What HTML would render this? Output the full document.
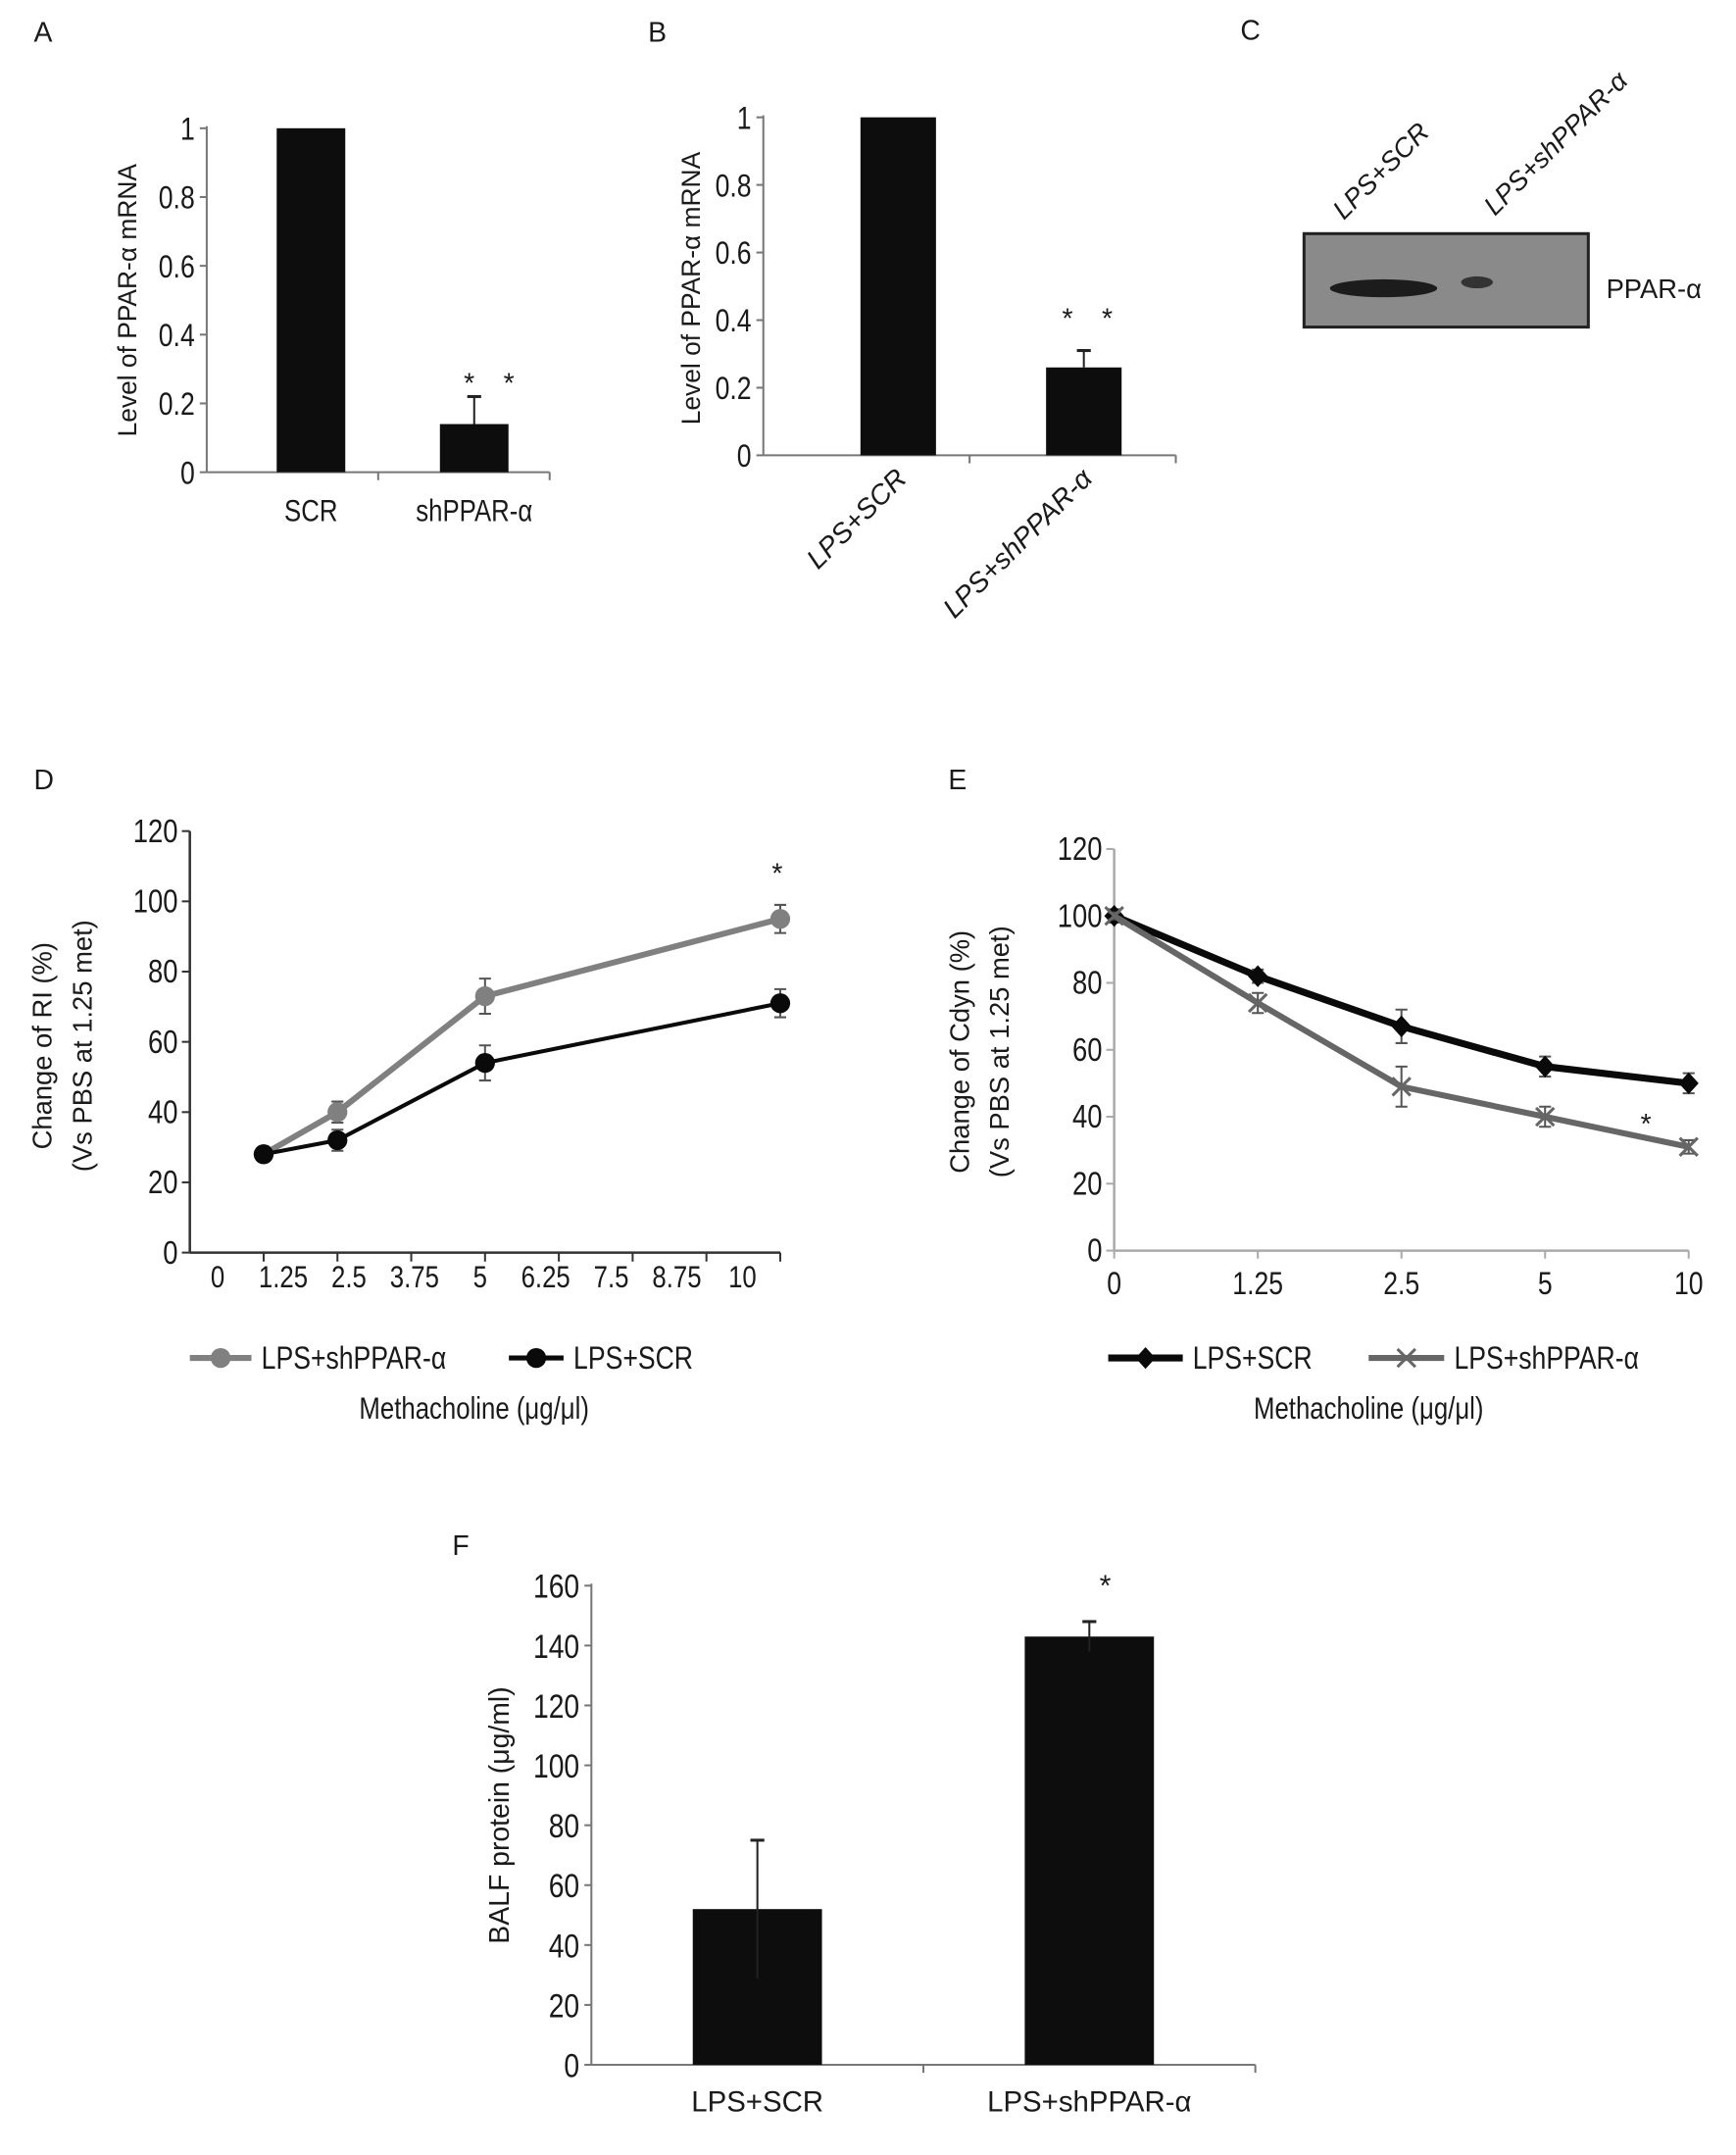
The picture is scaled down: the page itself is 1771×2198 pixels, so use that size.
<!DOCTYPE html>
<html><head><meta charset="utf-8"><style>
html,body{margin:0;padding:0;background:#fff}
svg{display:block}
text{font-family:"Liberation Sans",sans-serif;fill:#1a1a1a}
</style></head><body>
<svg id="fig" xmlns="http://www.w3.org/2000/svg" width="1771" height="2198" viewBox="0 0 1746.6 2167.7">
<text x="34" y="42" font-size="28">A</text>
<text x="652" y="42" font-size="28">B</text>
<text x="1248" y="40" font-size="28">C</text>
<text x="34" y="794" font-size="28">D</text>
<text x="954" y="794" font-size="28">E</text>
<text x="455" y="1564" font-size="28">F</text>
<g id="blot">
<rect x="1312" y="235" width="286" height="94" fill="#8a8a8a" stroke="#222" stroke-width="3"/>
<ellipse cx="1392" cy="290" rx="54" ry="9" fill="#1c1c1c"/>
<ellipse cx="1486" cy="284" rx="16" ry="6" fill="#333"/>
<text x="1616" y="300" font-size="27">PPAR-α</text>
<text transform="translate(1352,222) rotate(-45)" font-size="27" font-style="italic">LPS+SCR</text>
<text transform="translate(1504,218) rotate(-45)" font-size="27" font-style="italic">LPS+shPPAR-α</text>
</g>
</svg>
<script>
// ---- data ----
const catA = ["SCR","shPPAR-α"];
const valA = [1, 0.14];
const errA = [0, 0.08];
const catB = ["LPS+SCR","LPS+shPPAR-α"];
const valB = [1, 0.26];
const errB = [0, 0.05];
const ticksAB = [0,0.2,0.4,0.6,0.8,1];
const tickLabA = ["0","0.2","0.4","0.6","0.8","1"];
const xLabD = ["0","1.25","2.5","3.75","5","6.25","7.5","8.75","10"];
const xPosD = [1,2,4,8];
const dGray = [28,40,73,95];
const dGrayErr = [2,3,5,4];
const dBlack = [28,32,54,71];
const dBlackErr = [2,3,5,4];
const ticksDE = [0,20,40,60,80,100,120];
const xLabE = ["0","1.25","2.5","5","10"];
const eBlack = [100,82,67,55,50];
const eBlackErr = [2,2,5,3,3];
const eGray = [100,74,49,40,31];
const eGrayErr = [1,3,6,3,2];
const catF = ["LPS+SCR","LPS+shPPAR-α"];
const valF = [52,143];
const errF = [23,5];
const ticksF = [0,20,40,60,80,100,120,140,160];

const svg = document.getElementById('fig');
const NS = "http://www.w3.org/2000/svg";
function mk(tag, at, parent){const e=document.createElementNS(NS,tag);for(const k in at)e.setAttribute(k,at[k]);(parent||svg).appendChild(e);return e;}
function txt(s, at, parent){const e=mk('text',at,parent);e.textContent=s;return e;}
function ntxt(s,x,y,fs,anchor,parent){return txt(s,{transform:`translate(${x},${y}) scale(0.82,1)`,'font-size':fs,'text-anchor':anchor},parent);}

function barPanel(o){
  const g=mk('g',{});
  
  
  const y=v=>o.y0-(v-o.min)/(o.max-o.min)*(o.y0-o.y1);
  mk('line',{x1:o.ax,y1:o.y1-2,x2:o.ax,y2:o.y0,stroke:'#777','stroke-width':2},g);
  mk('line',{x1:o.ax,y1:o.y0,x2:o.ax2,y2:o.y0,stroke:'#777','stroke-width':2},g);
  o.ticks.forEach((t,i)=>{
    mk('line',{x1:o.ax-7,y1:y(t),x2:o.ax,y2:y(t),stroke:'#777','stroke-width':2},g);
    const l=ntxt(o.tickLab?o.tickLab[i]:String(t),o.ax-12,y(t)+o.fs*0.36,o.fs,'end',g);
    
    
  });
  const n=o.cats.length, slot=(o.ax2-o.ax)/n;
  for(let i=1;i<=n;i++) mk('line',{x1:o.ax+slot*i,y1:o.y0,x2:o.ax+slot*i,y2:o.y0+8,stroke:'#777','stroke-width':2},g);
  o.cats.forEach((c,i)=>{
    const cx=o.ax+(o.ax2-o.ax)*(o.fr?o.fr[i]:(i+0.5)/n);
    const b=mk('rect',{x:cx-o.bw/2,y:y(o.vals[i]),width:o.bw,height:o.y0-y(o.vals[i]),fill:'#0d0d0d'},g);
    
    
    if(o.errs[i]>0){
      const top=y(o.vals[i]+o.errs[i]);
      mk('line',{x1:cx,y1:top,x2:cx,y2:o.errDown?y(o.vals[i]-o.errs[i]):y(o.vals[i]),stroke:'#222','stroke-width':2},g);
      mk('line',{x1:cx-7,y1:top,x2:cx+7,y2:top,stroke:'#222','stroke-width':3},g);
    }
    let l;
    if(o.rot){l=txt(c,{transform:`translate(${cx+o.rotDx},${o.y0+25}) rotate(-45)`,'font-size':o.cfs,'text-anchor':'end','font-style':'italic'},g);}
    else if(o.cnarrow) l=ntxt(c,cx,o.y0+o.cfs+18,o.cfs,'middle',g);
    else l=txt(c,{x:cx,y:o.y0+o.cfs+18,'font-size':o.cfs,'text-anchor':'middle'},g);
    
    
  });
  const t=txt(o.title,{transform:`translate(${o.tx},${o.ty}) rotate(-90)`,'font-size':o.tfs,'text-anchor':'middle'},g);
  
  
  return {g,y,slot};
}

// Panel A
const pA=barPanel({name:'chart-a',ax:208,ax2:553,y0:475,y1:129,min:0,max:1,ticks:ticksAB,tickLab:tickLabA,fs:32,cats:catA,vals:valA,errs:errA,fr:[0.304,0.78],bw:69,cfs:31,cnarrow:true,title:'Level of PPAR-α mRNA',tx:137,ty:302,tfs:26});
[472,512].forEach(x=>{const s=txt('*',{x:x,y:395,'font-size':28,'text-anchor':'middle',fill:'#555'},pA.g);});
// Panel B
const pB=barPanel({name:'chart-b',ax:768,ax2:1183,y0:458,y1:118,min:0,max:1,ticks:ticksAB,tickLab:tickLabA,fs:32,cats:catB,vals:valB,errs:errB,fr:[0.327,0.777],bw:76,cfs:28,rot:true,rotDx:10,title:'Level of PPAR-α mRNA',tx:704,ty:290,tfs:26});
[1074,1114].forEach(x=>{const s=txt('*',{x:x,y:330,'font-size':28,'text-anchor':'middle',fill:'#555'},pB.g);});
// Panel F
const pF=barPanel({name:'chart-f',ax:595,ax2:1263,y0:2077,y1:1595,min:0,max:160,ticks:ticksF,fs:34,cats:catF,vals:valF,errs:errF,bw:130,cfs:29,errDown:true,title:'BALF protein (μg/ml)',tx:512,ty:1826,tfs:28});
{const s=txt('*',{x:1112,y:1605,'font-size':30,'text-anchor':'middle',fill:'#444'},pF.g);}

// Line panels
function linePanel(o){
  const g=mk('g',{});
  
  
  const y=v=>o.y0-v/120*(o.y0-o.y1);
  mk('line',{x1:o.ax,y1:o.y1,x2:o.ax,y2:o.y0,stroke:o.axc,'stroke-width':2.5},g);
  mk('line',{x1:o.ax,y1:o.y0,x2:o.ax2,y2:o.y0,stroke:o.axc,'stroke-width':2.5},g);
  ticksDE.forEach(t=>{
    mk('line',{x1:o.ax-8,y1:y(t),x2:o.ax,y2:y(t),stroke:o.axc,'stroke-width':2},g);
    const l=ntxt(String(t),o.ax-12,y(t)+11,33,'end',g);
    
    
  });
  const t1=txt(o.t1,{transform:`translate(${o.tx1},${o.ty}) rotate(-90)`,'font-size':27,'text-anchor':'middle'},g);
  
  
  const t2=txt('(Vs PBS at 1.25 met)',{transform:`translate(${o.tx1+40},${o.ty}) rotate(-90)`,'font-size':27,'text-anchor':'middle'},g);
  
  
  const xt=ntxt('Methacholine (μg/μl)',o.mx,1427,31,'middle',g);
  
  
  return {g,y};
}
function series(g,xs,vals,errs,y,color,w,marker,name){
  const sg=mk('g',{},g);
  
  
  mk('polyline',{points:vals.map((v,i)=>xs[i]+','+y(v)).join(' '),fill:'none',stroke:color,'stroke-width':w,'stroke-linejoin':'round'},sg);
  vals.forEach((v,i)=>{
    const x=xs[i],a=y(v+errs[i]),b=y(v-errs[i]);
    mk('path',{d:`M${x-6},${a}H${x+6}M${x},${a}V${b}M${x-6},${b}H${x+6}`,stroke:'#555','stroke-width':2,fill:'none'},sg);
    drawMarker(sg,marker,x,y(v),color);
  });
}
function drawMarker(g,m,x,yy,color){
  let e;
  if(m==='circle') e=mk('circle',{cx:x,cy:yy,r:10,fill:color},g);
  else if(m==='diamond') e=mk('path',{d:`M${x},${yy-11}L${x+10},${yy}L${x},${yy+11}L${x-10},${yy}Z`,fill:color},g);
  else e=mk('path',{d:`M${x-9},${yy-9}L${x+9},${yy+9}M${x+9},${yy-9}L${x-9},${yy+9}`,stroke:color,'stroke-width':3},g);
  
  
}
function legend(g,x1,x2,label,color,w,marker){
  const lg=mk('g',{},g);
  
  
  mk('line',{x1:x1,y1:1366,x2:x2,y2:1366,stroke:color,'stroke-width':w},lg);
  drawMarker(lg,marker,(x1+x2)/2,1366,color);
  ntxt(label,x2+10,1377,32,'start',lg);
}

// Panel D
const pD=linePanel({name:'chart-d',ax:191,ax2:785,y0:1260,y1:836,axc:'#333',t1:'Change of RI (%)',tx1:52,ty:1052,mx:477});
const stepD=(785-191)/8;
for(let i=1;i<=8;i++) mk('line',{x1:191+stepD*i,y1:1260,x2:191+stepD*i,y2:1269,stroke:'#333','stroke-width':2},pD.g);
xLabD.forEach((l,i)=>{const t=ntxt(l,219+i*66,1295,31,'middle',pD.g);});
const xsD=xPosD.map(p=>191+stepD*p);
series(pD.g,xsD,dGray,dGrayErr,pD.y,'#808080',6,'circle','series-lps-shppar');
series(pD.g,xsD,dBlack,dBlackErr,pD.y,'#0a0a0a',4,'circle','series-lps-scr');
{const s=txt('*',{x:xsD[3]-3,y:pD.y(dGray[3]+dGrayErr[3])-22,'font-size':28,'text-anchor':'middle',fill:'#555'},pD.g);}
legend(pD.g,191,253,'LPS+shPPAR-α','#808080',6,'circle');
legend(pD.g,512,567,'LPS+SCR','#0a0a0a',5,'circle');

// Panel E
const pE=linePanel({name:'chart-e',ax:1121,ax2:1699,y0:1258,y1:854,axc:'#aaa',t1:'Change of Cdyn (%)',tx1:975,ty:1058,mx:1377});
const stepE=(1699-1121)/4;
const xsE=xLabE.map((l,i)=>1121+stepE*i);
xLabE.forEach((l,i)=>{mk('line',{x1:xsE[i],y1:1258,x2:xsE[i],y2:1266,stroke:'#aaa','stroke-width':2},pE.g);const t=ntxt(l,xsE[i],1302,32,'middle',pE.g);});
series(pE.g,xsE,eBlack,eBlackErr,pE.y,'#0a0a0a',7,'diamond','series-lps-scr');
series(pE.g,xsE,eGray,eGrayErr,pE.y,'#666',6,'x','series-lps-shppar');
{const s=txt('*',{x:1656,y:1140,'font-size':28,'text-anchor':'middle',fill:'#555'},pE.g);}
legend(pE.g,1115,1190,'LPS+SCR','#0a0a0a',7,'diamond');
legend(pE.g,1377,1453,'LPS+shPPAR-α','#666',6,'x');
</script>
</body></html>
